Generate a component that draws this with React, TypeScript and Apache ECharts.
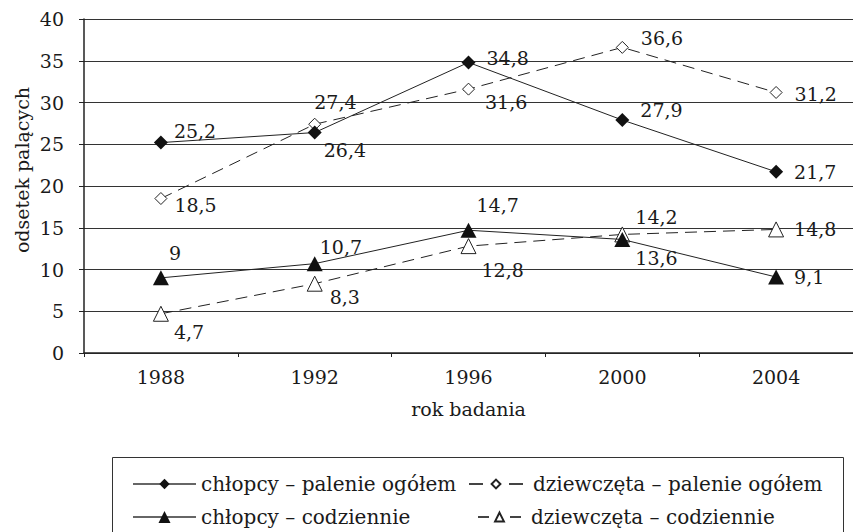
import React, { useEffect, useRef } from "react";
import * as echarts from "echarts";

const years = ["1988", "1992", "1996", "2000", "2004"];
const boysTotal = [25.2, 26.4, 34.8, 27.9, 21.7];
const girlsTotal = [18.5, 27.4, 31.6, 36.6, 31.2];
const boysDaily = [9, 10.7, 14.7, 13.6, 9.1];
const girlsDaily = [4.7, 8.3, 12.8, 14.2, 14.8];
const seriesNames = [
  "chłopcy – palenie ogółem",
  "dziewczęta – palenie ogółem",
  "chłopcy – codziennie",
  "dziewczęta – codziennie",
];
const yMin = 0;
const yMax = 40;
const yStep = 5;

// label placement: [left edge relative to point, vertical centre relative to point]
const boysTotalLabel = [[13, -12], [9, 17], [18, -4], [18, -10], [18, 0]];
const girlsTotalLabel = [[13, 6], [-1, -22], [16, 13], [18, -9], [18, 2]];
const boysDailyLabel = [[8, -25], [5, -17], [8, -25], [13, 19], [18, 0]];
const girlsDailyLabel = [[13, 18], [15, 13], [13, 24], [13, -17], [18, 0]];

const FONT = '"DejaVu Serif", serif';
const INK = "#1a1a1a";

function items(values: number[], offs: number[][], half: number) {
  return values.map((v, i) => ({
    value: v,
    label: { offset: [offs[i][0] - half, offs[i][1]] },
  }));
}

export default function App() {
  const ref = useRef<HTMLDivElement>(null);
  useEffect(() => {
    const chart = echarts.init(ref.current!, null, { renderer: "svg" });
    const label = {
      show: true,
      position: "right",
      distance: 0,
      fontFamily: FONT,
      fontSize: 19,
      color: INK,
      formatter: (p: any) => String(p.value).replace(".", ","),
    };
    const solid = { color: "#222", width: 1, type: "solid" };
    const dashed = { color: "#222", width: 1, type: [12, 7] };
    const legendText = { fontFamily: FONT, fontSize: 20, color: INK };
    const legendBase = {
      padding: 0,
      itemGap: 0,
      selectedMode: false,
    };
    chart.setOption({
      animation: false,
      backgroundColor: "#fff",
      grid: { left: 84, right: -6, top: 19, bottom: 179, containLabel: false },
      xAxis: {
        type: "category",
        data: years,
        boundaryGap: true,
        name: "rok badania",
        nameLocation: "middle",
        nameGap: 46,
        nameTextStyle: { fontFamily: FONT, fontSize: 19, color: INK },
        axisLine: { show: true, lineStyle: { color: "#222", width: 1.5 } },
        axisTick: { show: true, length: 4, lineStyle: { color: "#222" } },
        axisLabel: { margin: 14, fontFamily: FONT, fontSize: 19, color: INK },
      },
      yAxis: {
        type: "value",
        min: yMin,
        max: yMax,
        interval: yStep,
        axisLine: { show: true, lineStyle: { color: "#222", width: 1.5 } },
        axisTick: { show: true, length: 5, lineStyle: { color: "#222" } },
        axisLabel: { margin: 20, fontFamily: FONT, fontSize: 19, color: INK },
        splitLine: { show: true, lineStyle: { color: "#333", width: 1 } },
      },
      legend: [
        {
          ...legendBase,
          data: [seriesNames[0]],
          left: 132,
          top: 474,
          itemWidth: 63,
          itemHeight: 13,
          textStyle: legendText,
          lineStyle: { color: "#666" },
        },
        {
          ...legendBase,
          data: [seriesNames[1]],
          left: 468,
          top: 474,
          itemWidth: 54,
          itemHeight: 11,
          textStyle: { ...legendText, padding: [0, 0, 0, 5] },
          lineStyle: { type: [14, 26, 14], color: "#444" },
        },
        {
          ...legendBase,
          data: [seriesNames[2]],
          left: 132,
          top: 507,
          itemWidth: 63,
          itemHeight: 15,
          textStyle: legendText,
          lineStyle: { color: "#666" },
        },
        {
          ...legendBase,
          data: [seriesNames[3]],
          left: 477,
          top: 507,
          itemWidth: 43,
          itemHeight: 11,
          textStyle: { ...legendText, padding: [0, 0, 0, 5] },
          lineStyle: { type: [11, 21, 11], color: "#444" },
        },
      ],
      graphic: [
        {
          type: "rect",
          shape: { x: 112.5, y: 457.5, width: 731, height: 90 },
          style: { fill: "none", stroke: "#333", lineWidth: 1 },
        },
        {
          type: "text",
          x: 22,
          y: 170,
          rotation: Math.PI / 2,
          style: {
            text: "odsetek palących",
            font: `19px ${FONT}`,
            align: "center",
            verticalAlign: "middle",
            fill: INK,
          },
        },
      ],
      series: [
        {
          name: seriesNames[0],
          type: "line",
          data: items(boysTotal, boysTotalLabel, 7),
          symbol: "diamond",
          symbolSize: 14,
          showAllSymbol: true,
          itemStyle: { color: "#111" },
          lineStyle: solid,
          label,
          z: 4,
        },
        {
          name: seriesNames[1],
          type: "line",
          data: items(girlsTotal, girlsTotalLabel, 6),
          symbol: "diamond",
          symbolSize: 12,
          showAllSymbol: true,
          itemStyle: { color: "#fff", borderColor: "#222", borderWidth: 1 },
          lineStyle: dashed,
          label,
          z: 3,
        },
        {
          name: seriesNames[2],
          type: "line",
          data: items(boysDaily, boysDailyLabel, 8),
          symbol: "triangle",
          symbolSize: [16, 15],
          showAllSymbol: true,
          itemStyle: { color: "#111" },
          lineStyle: solid,
          label,
          z: 4,
        },
        {
          name: seriesNames[3],
          type: "line",
          data: items(girlsDaily, girlsDailyLabel, 8),
          symbol: "triangle",
          symbolSize: [15, 15],
          showAllSymbol: true,
          itemStyle: { color: "#fff", borderColor: "#222", borderWidth: 1 },
          lineStyle: dashed,
          label,
          z: 3,
        },
      ],
    });
    return () => chart.dispose();
  }, []);
  return (
    <div
      ref={ref}
      style={{ position: "absolute", left: 0, top: 0, width: 853, height: 532, background: "#fff" }}
    />
  );
}
